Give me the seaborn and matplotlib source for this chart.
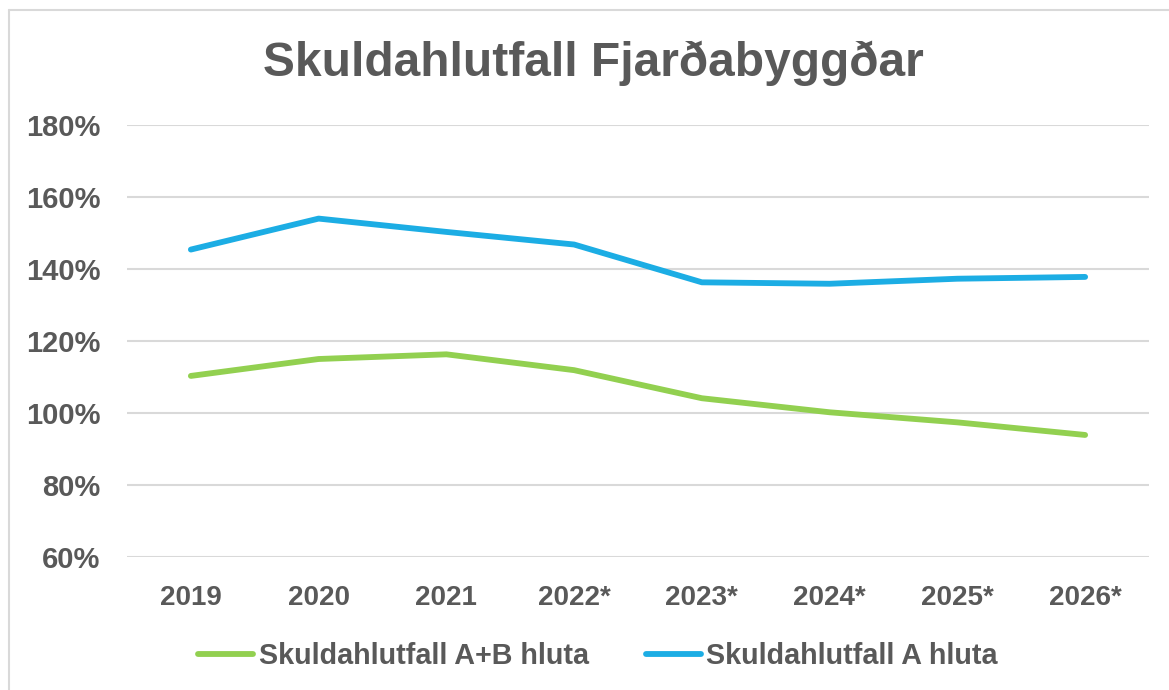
import matplotlib
matplotlib.use("Agg")
import matplotlib.pyplot as plt
import seaborn as sns
import pandas as pd
from matplotlib.lines import Line2D

years = ["2019", "2020", "2021", "2022*", "2023*", "2024*", "2025*", "2026*"]
ab_hluta = [110.3, 115.0, 116.3, 111.9, 104.1, 100.2, 97.4, 93.9]
a_hluta = [145.4, 154.0, 150.3, 146.8, 136.3, 135.9, 137.3, 137.8]
series_names = ["Skuldahlutfall A+B hluta", "Skuldahlutfall A hluta"]
title = "Skuldahlutfall Fjarðabyggðar"
yticks = [60, 80, 100, 120, 140, 160, 180]

sns.set_theme(style="white")
plt.rcParams['font.family'] = ['Liberation Sans', 'DejaVu Sans']

TXT = "#595959"
GREEN = "#92D050"
BLUE = "#1CADE4"

df = pd.DataFrame({
    "year": years * 2,
    "value": ab_hluta + a_hluta,
    "series": [series_names[0]] * len(years) + [series_names[1]] * len(years),
})

fig = plt.figure(figsize=(11.69, 6.9), dpi=100)
ax = fig.add_axes([127 / 1169, 1 - 557 / 690, (1149 - 127) / 1169, (557 - 125) / 690])

sns.lineplot(data=df, x="year", y="value", hue="series", sort=False,
             palette=[GREEN, BLUE], linewidth=4.2, ax=ax, legend=False)
for ln in ax.lines:
    ln.set_solid_capstyle("round")

ax.set_xlim(-0.5, len(years) - 0.5)
ax.set_ylim(60, 180)
ax.set_yticks(yticks)
ax.set_yticklabels([f"{v}%" for v in yticks])
ax.yaxis.grid(True, color="#D9D9D9", linewidth=1.5)
ax.xaxis.grid(False)
for s in ax.spines.values():
    s.set_visible(False)
ax.set_xlabel("")
ax.set_ylabel("")
ax.tick_params(axis="y", length=0, pad=19, labelsize=21, labelcolor=TXT)
ax.tick_params(axis="x", length=0, pad=20, labelsize=20, labelcolor=TXT)
for lab in ax.get_yticklabels() + ax.get_xticklabels():
    lab.set_fontweight("bold")

fig.text(593 / 1169, 1 - 63 / 690, title, ha="center", va="center",
         fontsize=34.5, fontweight="bold", color=TXT)

handles = [Line2D([0], [0], color=GREEN, lw=4.2, solid_capstyle="round"),
           Line2D([0], [0], color=BLUE, lw=4.2, solid_capstyle="round")]
leg = fig.legend(handles, series_names, loc="center", bbox_to_anchor=(598 / 1169, 1 - 656 / 690),
                 ncol=2, frameon=False, handlelength=1.9, handletextpad=0.2, columnspacing=2.0,
                 prop={"size": 20.7, "weight": "bold"})
for t in leg.get_texts():
    t.set_color(TXT)

fig.add_artist(Line2D([8.5 / 1169, 8.5 / 1169], [0, 1 - 10 / 690], transform=fig.transFigure,
                      color="#D9D9D9", lw=1.5))
fig.add_artist(Line2D([8.5 / 1169, 1], [1 - 10 / 690, 1 - 10 / 690], transform=fig.transFigure,
                      color="#D9D9D9", lw=1.5))

fig.savefig("out.png", dpi=100)
